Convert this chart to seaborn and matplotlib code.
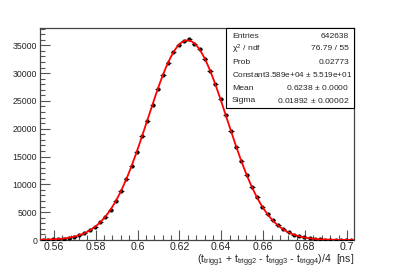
import numpy as np
import pandas as pd
import matplotlib
matplotlib.use("Agg")
import matplotlib.pyplot as plt
import seaborn as sns
from matplotlib.ticker import MultipleLocator

# ---- data ----
bin_low = 0.5534
bin_width = 0.0025
counts = [48, 70, 118, 170, 262, 410, 585, 870, 1210, 1720,
          2330, 3180, 4180, 5480, 6990, 8850, 10880, 13290, 15800, 18620,
          21400, 24350, 27050, 29700, 31850, 33750, 35050, 35700, 36100, 35300,
          34300, 32550, 30450, 28050, 25300, 22500, 19600, 16800, 14150, 11750,
          9520, 7640, 5980, 4620, 3520, 2610, 1920, 1370, 980, 680,
          460, 315, 205, 130, 88, 52, 35, 20, 12, 7]
fit_const = 3.589e4
fit_mean = 0.6238
fit_sigma = 0.01892
stat_labels = ["Entries", "$\\chi^2$ / ndf", "Prob", "Constant", "Mean", "Sigma"]
stat_values = ["642638", "76.79 / 55", "0.02773", "3.589e+04 $\\pm$ 5.519e+01",
               "0.6238 $\\pm$ 0.0000", "0.01892 $\\pm$ 0.00002"]
x_ticks = [0.56, 0.58, 0.60, 0.62, 0.64, 0.66, 0.68, 0.70]
x_tick_labels = ["0.56", "0.58", "0.6", "0.62", "0.64", "0.66", "0.68", "0.7"]
y_ticks = [0, 5000, 10000, 15000, 20000, 25000, 30000, 35000]

centers = bin_low + bin_width * (np.arange(len(counts)) + 0.5)
df = pd.DataFrame({"x": centers, "y": counts})
xf = np.linspace(bin_low, bin_low + bin_width * len(counts), 400)
fit_df = pd.DataFrame({"x": xf,
                       "y": fit_const * np.exp(-0.5 * ((xf - fit_mean) / fit_sigma) ** 2)})

sns.set_style("ticks")
plt.rcParams["font.family"] = ["Liberation Sans", "DejaVu Sans"]
plt.rcParams["mathtext.fontset"] = "custom"
plt.rcParams["mathtext.rm"] = "Liberation Sans"
plt.rcParams["mathtext.it"] = "Liberation Sans"

fig = plt.figure(figsize=(3.94, 2.80), dpi=100)
ax = fig.add_axes([40 / 394, 1 - 240 / 280, 314 / 394, 212 / 280])

ax.errorbar(df["x"], df["y"], xerr=bin_width / 2, yerr=np.sqrt(df["y"]),
            fmt="none", ecolor="black", elinewidth=0.6, zorder=2)
sns.scatterplot(data=df, x="x", y="y", ax=ax, color="black", s=9,
                edgecolor="black", linewidth=0, zorder=3)
sns.lineplot(data=fit_df, x="x", y="y", ax=ax, color="#ff0000", linewidth=1.3,
             zorder=4)

ax.set_xlim(bin_low, bin_low + bin_width * len(counts))
ax.set_ylim(0, 38100)
ax.set_xticks(x_ticks)
ax.set_xticklabels(x_tick_labels, fontsize=7.6)
ax.set_yticks(y_ticks)
ax.set_yticklabels([str(v) for v in y_ticks], fontsize=6.3)
ax.xaxis.set_minor_locator(MultipleLocator(0.004))
ax.yaxis.set_minor_locator(MultipleLocator(1000))
ax.tick_params(which="both", direction="in", top=False, right=False,
               color="#555555", width=0.8)
ax.tick_params(axis="x", which="major", length=7, pad=1.5)
ax.tick_params(axis="y", which="major", length=7, pad=2)
ax.tick_params(which="minor", length=3.5)
for sp in ax.spines.values():
    sp.set_linewidth(0.9)
    sp.set_color("#444444")
ax.set_xlabel("")
ax.set_ylabel("")

fig.text(354 / 394, 1 - 261 / 280,
         "(t$_{\\mathrm{trigg1}}$ + t$_{\\mathrm{trigg2}}$ - t$_{\\mathrm{trigg3}}$ - t$_{\\mathrm{trigg4}}$)/4  [ns]",
         ha="right", va="center", fontsize=7.6)

# stats box
bx0, by0 = 226 / 394, 1 - 108 / 280
bx1, by1 = 354 / 394, 1 - 28 / 280
box = plt.Rectangle((bx0, by0), bx1 - bx0, by1 - by0, transform=fig.transFigure,
                    facecolor="white", edgecolor="black", linewidth=0.8, zorder=10)
fig.add_artist(box)
rows_y = [36, 49, 62, 75, 88, 100]
for lab, val, ry in zip(stat_labels, stat_values, rows_y):
    if lab == "Constant":
        fig.text(232 / 394, 1 - ry / 280, lab + val, ha="left", va="center",
                 fontsize=5.9, zorder=11)
        continue
    fig.text(232 / 394, 1 - ry / 280, lab, ha="left", va="center", fontsize=6.1, zorder=11)
    fig.text(349 / 394, 1 - ry / 280, val, ha="right", va="center", fontsize=6.1, zorder=11)

fig.savefig("out.png", dpi=100)
